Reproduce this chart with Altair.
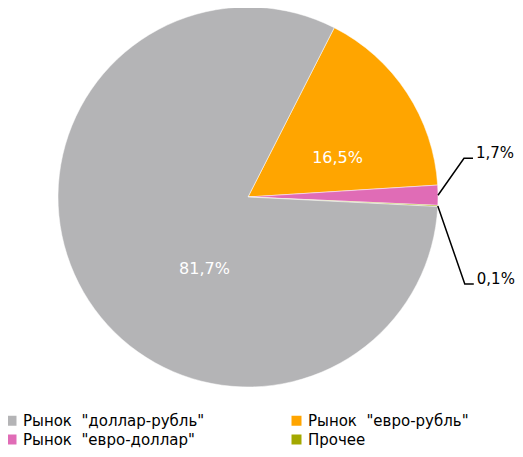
import math
import altair as alt
import pandas as pd

NB = "\u00a0"
# Data (slice order clockwise from the orange slice)
categories = [f'Рынок{NB} "евро-рубль"', f'Рынок{NB} "евро-доллар"', 'Прочее', f'Рынок{NB} "доллар-рубль"']
values = [16.5, 1.7, 0.1, 81.7]
labels = ['16,5%', '1,7%', '0,1%', '81,7%']
colors = ['#FFA500', '#E06CB6', '#A3A800', '#B4B4B6']
# legend fills column by column
legend_order = [f'Рынок{NB} "доллар-рубль"', f'Рынок{NB} "евро-доллар"', f'Рынок{NB} "евро-рубль"', 'Прочее']
legend_colors = ['#B4B4B6', '#E06CB6', '#FFA500', '#A3A800']

W, H = 507, 441
R = 190
cx, cy = 240, 189
start = math.radians(27.0)

total = sum(values)
df = pd.DataFrame({"cat": categories, "value": values, "label": labels, "idx": range(len(values))})

# geometry derived from data
cum = 0.0
mids = []
for v in values:
    mids.append(start + (cum + v / 2) / total * 2 * math.pi)
    cum += v

# inside labels (large slices)
inside_r = [100, None, None, 85]
inside_dx = [6, 0, 0, 30]
inside_dy = [16, 0, 0, 29]
ins_rows = []
for i, (m, r) in enumerate(zip(mids, inside_r)):
    if r is None:
        continue
    ins_rows.append({"x": cx + r * math.sin(m) + inside_dx[i],
                     "y": cy - r * math.cos(m) + inside_dy[i],
                     "label": labels[i]})
ins_df = pd.DataFrame(ins_rows)

# callouts for small slices
callout_dx = [None, 26, 27, None]
callout_dy = [None, -37, 78, None]
line_rows, out_rows = [], []
for i, m in enumerate(mids):
    if callout_dx[i] is None:
        continue
    ex, ey = cx + R * math.sin(m), cy - R * math.cos(m)
    bx, by = ex + callout_dx[i], ey + callout_dy[i]
    hx = bx + 9
    for k, (px, py) in enumerate([(ex, ey), (bx, by), (hx, by)]):
        line_rows.append({"g": labels[i], "k": k, "x": px, "y": py})
    out_rows.append({"x": hx + 3, "y": by, "label": labels[i]})
line_df = pd.DataFrame(line_rows)
out_df = pd.DataFrame(out_rows)

pie = alt.Chart(df).mark_arc(outerRadius=R, stroke="white", strokeWidth=0.5).encode(
    x=alt.value(cx), y=alt.value(cy),
    theta=alt.Theta("value:Q", stack=True, scale=alt.Scale(range=[start, start + 2 * math.pi])),
    order=alt.Order("idx:Q"),
    color=alt.Color("cat:N", scale=alt.Scale(domain=legend_order, range=legend_colors),
                    legend=alt.Legend(title=None, orient="none", legendX=-4, legendY=405,
                                      columns=2, columnPadding=84, rowPadding=3, padding=0,
                                      symbolType="square", symbolSize=100, symbolStrokeWidth=0,
                                      labelFont="DejaVu Sans", labelFontSize=15,
                                      labelColor="#000000", labelLimit=400, symbolOffset=0,
                                      labelOffset=4)),
)

inside = alt.Chart(ins_df).mark_text(color="white", font="DejaVu Sans", fontSize=16).encode(
    x=alt.X("x:Q", scale=None), y=alt.Y("y:Q", scale=None), text="label:N")

lines = alt.Chart(line_df).mark_line(color="black", strokeWidth=1.5).encode(
    x=alt.X("x:Q", scale=None), y=alt.Y("y:Q", scale=None), detail="g:N", order="k:Q")

outside = alt.Chart(out_df).mark_text(color="black", font="DejaVu Sans", fontSize=15,
                                      align="left", baseline="alphabetic").encode(
    x=alt.X("x:Q", scale=None), y=alt.Y("y:Q", scale=None), text="label:N")

chart = alt.layer(pie, inside, lines, outside).properties(
    width=W, height=H, background="white", padding=0,
    autosize=alt.AutoSizeParams(type="none")
).configure_view(strokeWidth=0, stroke=None)

chart.save("out.html", embed_options={"renderer": "svg", "actions": False})
